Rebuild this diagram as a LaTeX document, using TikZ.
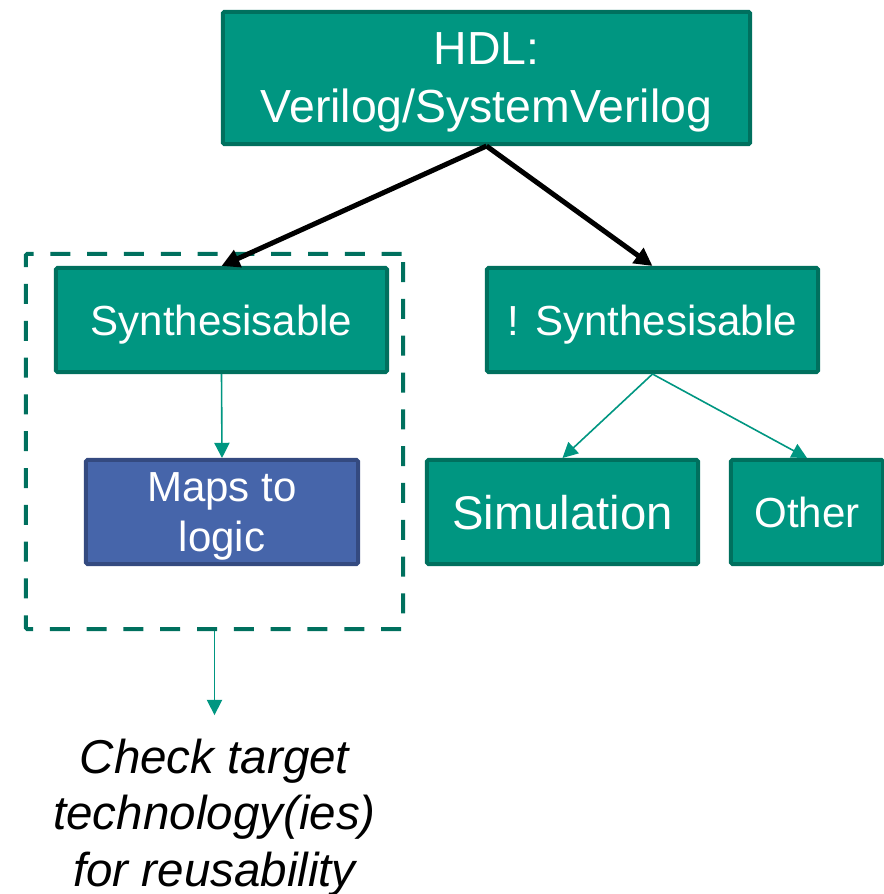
\documentclass[tikz,border=0pt]{standalone}
\usepackage{fontspec}
\setmainfont{Liberation Sans}
\usetikzlibrary{arrows.meta, positioning}
\definecolor{tealfill}{HTML}{009681}
\definecolor{tealline}{HTML}{00705E}
\definecolor{bluefill}{HTML}{4665AA}
\definecolor{blueline}{HTML}{344A80}
\tikzset{%
  >={Triangle[width=4.5mm,length=4.5mm]},
  % Specifications for style of nodes:
	base/.style = {draw, align=center, line width=1mm, rounded corners=1pt,
	               text=white, inner sep=0pt, minimum height=2.6cm,
	               text depth=0pt},
	lang/.style = {base, fill=tealfill, draw=tealline, minimum height=3.3cm,
	               font=\fontsize{33}{41.2}\selectfont},
	kind/.style = {base, fill=tealfill, draw=tealline, minimum width=8.275cm,
	               font=\fontsize{29.9}{35}\selectfont},
	usage/.style = {base, fill=tealfill, draw=tealline},
	logic/.style = {base, fill=bluefill, draw=blueline, minimum width=6.8cm,
	               font=\fontsize{29.9}{35.5}\selectfont},
	group/.style = {draw=tealline, line width=1mm, rounded corners=1pt,
	               dash pattern=on 5mm off 4.2mm, minimum width=9.425cm,
	               minimum height=9.375cm},
	note/.style = {align=center, inner xsep=0pt, inner ysep=5.8mm,
	               font=\itshape\fontsize{33.8}{40.5}\selectfont},
	norm/.style = {->, draw, black, line width=1.25mm},
	thin/.style = {-{Triangle[width=3.8mm,length=3.8mm]}, draw, tealfill,
	               line width=0.4mm},
}
\begin{document}
\begin{tikzpicture}[
    x=0.025cm, y=-0.025cm,      % one unit per pixel, top-down
]
  \useasboundingbox (0,0) rectangle (883,894);
  % Specification of nodes (position, etc.)
  \node (hdl) [lang, minimum width=13.175cm] at (486.5,78) {HDL:\\Verilog/SystemVerilog};

  \node (synth)    [kind] at (221.5,320) {Synthesisable};
  \node (notsynth) [kind] at (652.5,320) {! Synthesisable};

  \node (maps) [logic] at (222,512) {Maps to\\logic};

  \node (sim)   [usage, minimum width=6.775cm,
                 font=\fontsize{33.6}{39}\selectfont] at (562.5,512) {Simulation};
  \node (other) [usage, minimum width=3.8cm,
                 font=\fontsize{29.9}{35}\selectfont] at (807,512) {Other};

  \node (scope) [group] at (214.5,441.5) {};

  \node (check) [note, below=0pt of scope, yshift=-2.1cm]
        {Check target\\technology(ies)\\for reusability};

  % Connectors
  \draw [norm] (hdl.south) -- (synth.north);
  \draw [norm] (hdl.south) -- (notsynth.north);

  \draw [thin] (synth.south) -- (maps.north);
  \draw [thin] (notsynth.south) -- (sim.north);
  \draw [thin] (notsynth.south) -- (other.north);

  \draw [thin] (scope.south) -- (check.north);
\end{tikzpicture}
\end{document}
